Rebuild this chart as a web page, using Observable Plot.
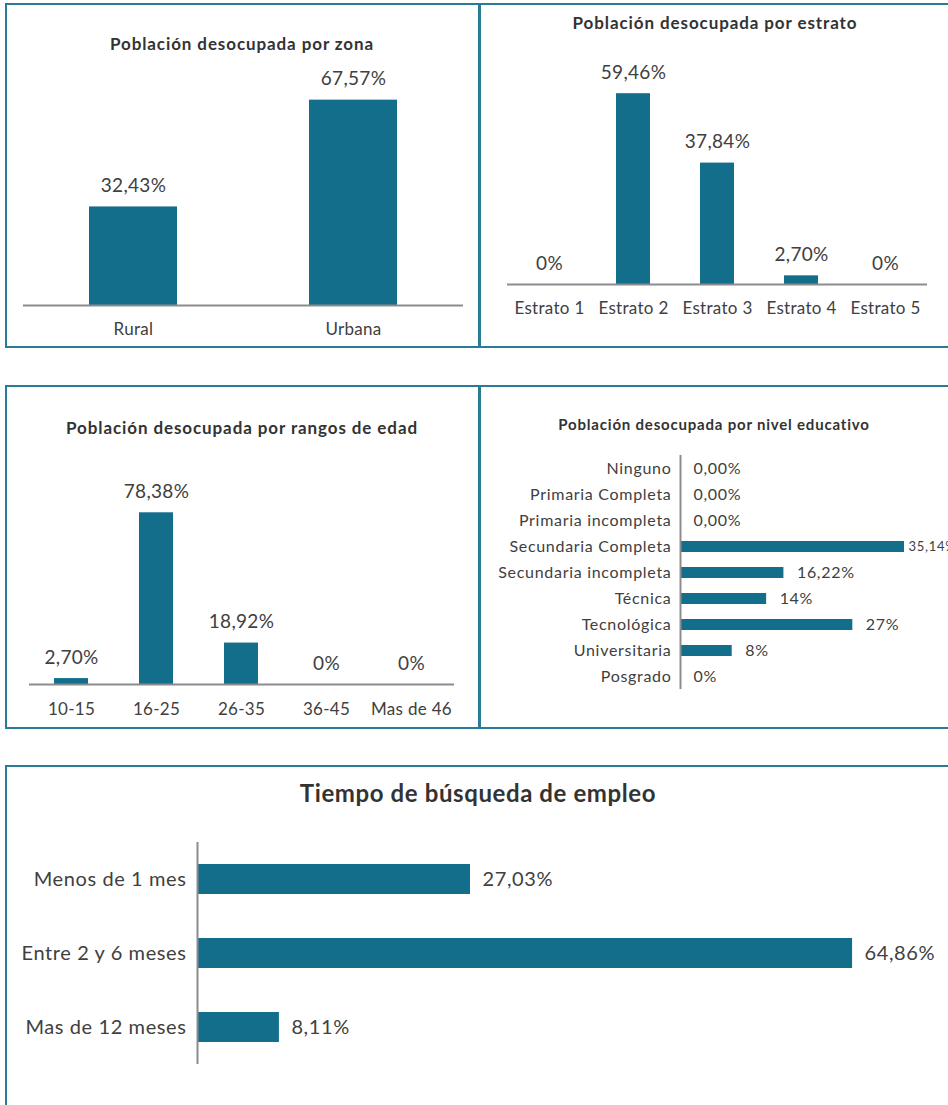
<!DOCTYPE html>
<html><head><meta charset="utf-8">
<script src="https://cdn.jsdelivr.net/npm/d3@7"></script>
<script src="https://cdn.jsdelivr.net/npm/@observablehq/plot@0.6"></script>
<style>
body{margin:0;width:948px;height:1105px;overflow:hidden;position:relative;background:#fff;font-family:Lato, sans-serif;}
.box{position:absolute;box-sizing:border-box;border:2px solid #2a7b98;}
.title{position:absolute;font-weight:700;color:#333;white-space:nowrap;transform:translate(-50%,-50%);line-height:1;}
.chart{position:absolute;}
.chart svg{overflow:visible;}
</style></head><body>
<div class="box" style="left:5px;top:3px;width:476px;height:345px"></div>
<div class="box" style="left:478px;top:3px;width:480px;height:345px"></div>
<div class="box" style="left:5px;top:385px;width:476px;height:344px"></div>
<div class="box" style="left:478px;top:385px;width:480px;height:344px"></div>
<div class="box" style="left:5px;top:765px;width:960px;height:400px"></div>
<script>
const zonaCats = ["Rural", "Urbana"];
const zonaVals = [32.43, 67.57];
const zonaLabels = ["32,43%", "67,57%"];

const estratoCats = ["Estrato 1", "Estrato 2", "Estrato 3", "Estrato 4", "Estrato 5"];
const estratoVals = [0, 59.46, 37.84, 2.70, 0];
const estratoLabels = ["0%", "59,46%", "37,84%", "2,70%", "0%"];

const edadCats = ["10-15", "16-25", "26-35", "36-45", "Mas de 46"];
const edadVals = [2.70, 78.38, 18.92, 0, 0];
const edadLabels = ["2,70%", "78,38%", "18,92%", "0%", "0%"];

const nivelCats = ["Ninguno", "Primaria Completa", "Primaria incompleta", "Secundaria Completa", "Secundaria incompleta", "Técnica", "Tecnológica", "Universitaria", "Posgrado"];
const nivelVals = [0, 0, 0, 35.14, 16.22, 13.51, 27.03, 8.11, 0];
const nivelLabels = ["0,00%", "0,00%", "0,00%", "35,14%", "16,22%", "14%", "27%", "8%", "0%"];

const tiempoCats = ["Menos de 1 mes", "Entre 2 y 6 meses", "Mas de 12 meses"];
const tiempoVals = [27.03, 64.86, 8.11];
const tiempoLabels = ["27,03%", "64,86%", "8,11%"];

const titles = [
  {t: "Población desocupada por zona", x: 242, y: 43, s: 17, ls: 0.9},
  {t: "Población desocupada por estrato", x: 715, y: 22, s: 17, ls: 0.9},
  {t: "Población desocupada por rangos de edad", x: 242, y: 427, s: 17, ls: 0.9},
  {t: "Población desocupada por nivel educativo", x: 714, y: 424, s: 15, ls: 0.8},
  {t: "Tiempo de búsqueda de empleo", x: 478, y: 793, s: 24, ls: 0.6}
];

const BAR = "#136e8c";
const AXIS = "#8c8c8c";
const TXT = "#404040";

function place(node, left, top) {
  const d = document.createElement("div");
  d.className = "chart";
  d.style.left = left + "px";
  d.style.top = top + "px";
  d.appendChild(node);
  document.body.appendChild(d);
}

function vbar(cats, vals, labels, o) {
  const data = cats.map((c, i) => ({c, v: vals[i], l: labels[i]}));
  return Plot.plot({
    width: o.width, height: o.height,
    marginLeft: o.mL, marginRight: o.mR, marginTop: o.mT, marginBottom: o.mB,
    style: {fontFamily: "Lato, sans-serif", fontSize: "17px", color: TXT, background: "transparent", letterSpacing: "0.3px"},
    x: {domain: cats, paddingInner: 0.6, paddingOuter: 0.3, label: null},
    y: {domain: [0, o.ymax], axis: null},
    marks: [
      Plot.barY(data, {x: "c", y: "v", fill: BAR}),
      Plot.ruleY([0], {stroke: AXIS, strokeWidth: 2}),
      Plot.text(data, {x: "c", y: "v", text: "l", lineAnchor: "bottom", dy: -15, fontSize: 19}),
      Plot.axisX({tickSize: 0, tickPadding: o.pad, label: null, fontSize: 17})
    ]
  });
}

function hbar(cats, vals, labels, o) {
  const data = cats.map((c, i) => ({c, v: vals[i], l: labels[i]}));
  const vmax = d3.max(vals);
  const marks = [
    Plot.barX(data, {y: "c", x: "v", fill: BAR}),
    Plot.ruleX([0], {stroke: AXIS, strokeWidth: 2}),
    Plot.axisY({tickSize: 0, tickPadding: o.pad, label: null, fontSize: o.fs})
  ];
  if (o.smallMax) {
    marks.push(Plot.text(data.filter(d => d.v !== vmax), {y: "c", x: "v", text: "l", textAnchor: "start", dx: o.dx, fontSize: o.fs}));
    marks.push(Plot.text(data.filter(d => d.v === vmax), {y: "c", x: "v", text: "l", textAnchor: "start", dx: 4, fontSize: 13}));
  } else {
    marks.push(Plot.text(data, {y: "c", x: "v", text: "l", textAnchor: "start", dx: o.dx, fontSize: o.fs}));
  }
  return Plot.plot({
    width: o.width, height: o.height,
    marginLeft: o.mL, marginRight: o.mR, marginTop: o.mT, marginBottom: o.mB,
    style: {fontFamily: "Lato, sans-serif", fontSize: o.fs + "px", color: TXT, background: "transparent", letterSpacing: o.ls + "px"},
    y: {domain: cats, paddingInner: o.pi, paddingOuter: o.pi / 2, label: null},
    x: {domain: [0, o.xmax], axis: null},
    marks
  });
}

place(vbar(zonaCats, zonaVals, zonaLabels, {width: 473, height: 343, mL: 17, mR: 16, mT: 60, mB: 42, ymax: 79.3, pad: 17}), 6, 4);
place(vbar(estratoCats, estratoVals, estratoLabels, {width: 469, height: 343, mL: 28, mR: 21, mT: 40, mB: 63, ymax: 74.8, pad: 17}), 479, 4);
place(vbar(edadCats, edadVals, edadLabels, {width: 473, height: 343, mL: 23, mR: 25, mT: 60, mB: 44, ymax: 109.1, pad: 18}), 6, 385);
place(hbar(nivelCats, nivelVals, nivelLabels, {width: 469, height: 342, mL: 201, mR: 20, mT: 69, mB: 39, xmax: 38.9, pad: 9, fs: 16, ls: 0.7, dx: 13, pi: 0.58, smallMax: true}), 479, 386);
place(hbar(tiempoCats, tiempoVals, tiempoLabels, {width: 942, height: 339, mL: 191, mR: 43, mT: 76, mB: 41, xmax: 70.1, pad: 11, fs: 20, ls: 0.6, dx: 12, pi: 0.6, smallMax: false}), 6, 766);

for (const t of titles) {
  const d = document.createElement("div");
  d.className = "title";
  d.textContent = t.t;
  d.style.left = t.x + "px";
  d.style.top = t.y + "px";
  d.style.fontSize = t.s + "px";
  d.style.letterSpacing = t.ls + "px";
  document.body.appendChild(d);
}
</script>
</body></html>
